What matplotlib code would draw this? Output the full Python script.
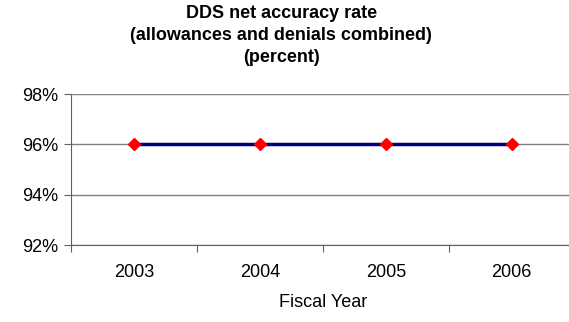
import matplotlib.pyplot as plt
import numpy as np

plt.rcParams['font.family'] = ['Liberation Sans', 'DejaVu Sans']

# data
years = ["2003", "2004", "2005", "2006"]
accuracy = [96, 96, 96, 96]

fig = plt.figure(figsize=(5.69, 3.22), dpi=100)
ax = fig.add_axes([0.125, 0.239, 0.885, 0.469])

x = np.arange(len(years))
ax.plot(x, accuracy, color="#000080", linewidth=2.5, zorder=3)
ax.plot(x, accuracy, linestyle="none", marker="D", markersize=6.5,
        color="#ff0000", markeredgecolor="#ff0000", zorder=4)

ax.set_xlim(-0.5, len(years) - 0.5)
ax.set_ylim(92, 98)
ax.set_yticks([92, 94, 96, 98])
ax.set_yticklabels([f"{v}%" for v in [92, 94, 96, 98]], fontsize=13)
ax.yaxis.grid(True, color="#808080", linewidth=1)
ax.set_axisbelow(True)

# category labels between the boundary ticks
ax.set_xticks(np.arange(-0.5, len(years), 1.0))
ax.set_xticklabels([])
ax.set_xticks(x, minor=True)
ax.set_xticklabels(years, minor=True, fontsize=13)
ax.tick_params(axis="x", which="minor", length=0, pad=14)
ax.tick_params(axis="x", which="major", length=5, direction="out", color="#606060")
ax.tick_params(axis="y", length=5, direction="out", color="#606060", pad=4)

for s in ["top", "right"]:
    ax.spines[s].set_visible(False)
for s in ["left", "bottom"]:
    ax.spines[s].set_color("#606060")

ax.set_xlabel("Fiscal Year", fontsize=13, labelpad=9)
fig.text(0.494, 0.985, "DDS net accuracy rate\n(allowances and denials combined)\n(percent)",
         ha="center", va="top", fontsize=13, fontweight="bold", linespacing=1.4)

fig.savefig("out.png", dpi=100)
